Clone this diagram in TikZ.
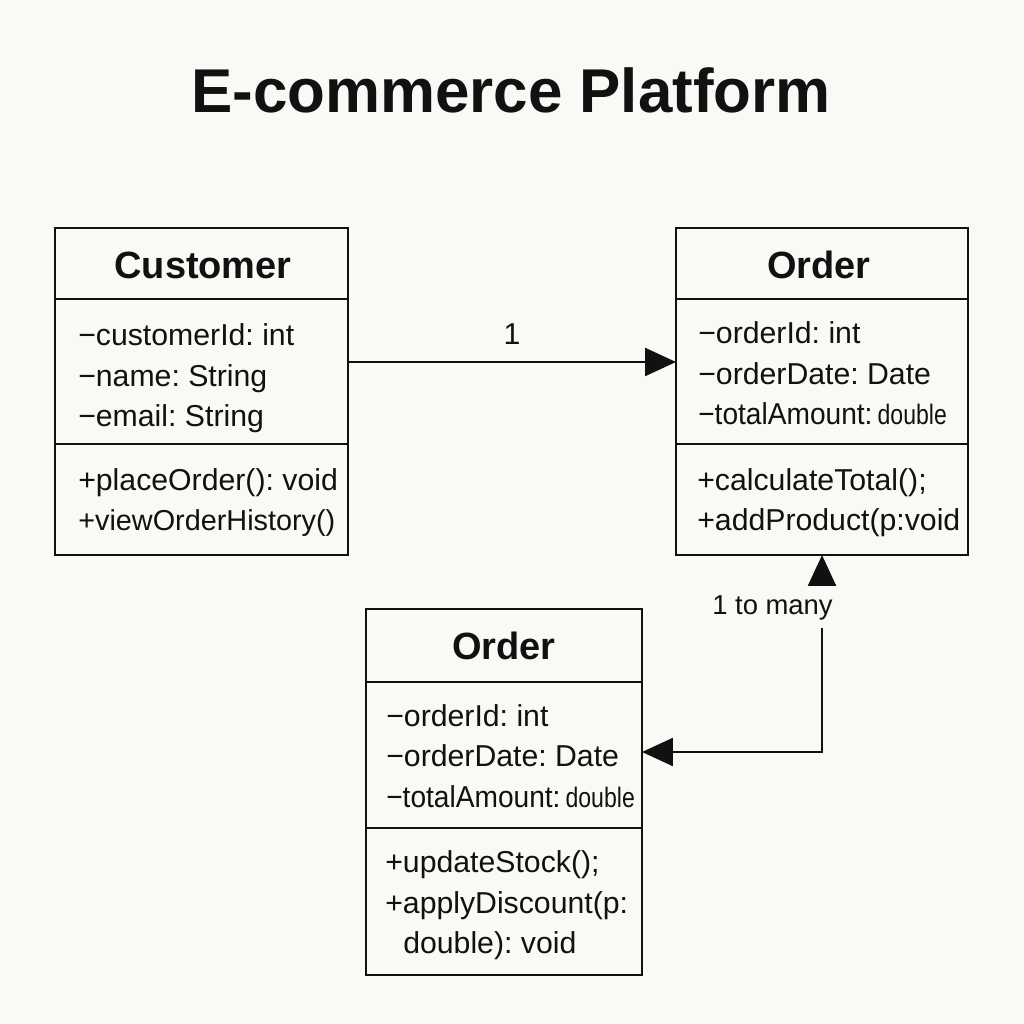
\documentclass[tikz,border=0pt]{standalone}
\usepackage{fontspec}
\usepackage{graphicx}
\setmainfont{Liberation Sans}
\usetikzlibrary{arrows.meta}
\definecolor{bg}{RGB}{250,249,246}
\definecolor{ink}{RGB}{17,17,17}
\newcommand{\dbl}{\scalebox{0.82}[1]{\fontsize{20}{22}\selectfont double}}
\newcommand{\tamt}{\scalebox{0.93}[1]{−totalAmount:}\,}
\begin{document}
\frenchspacing
\begin{tikzpicture}[x=0.025cm,y=-0.025cm,
  cls/.style={draw=ink, line width=1.4pt, inner sep=0pt, outer sep=0pt, rectangle},
  sepline/.style={draw=ink, line width=1.4pt},
  ttl/.style={font=\bfseries\fontsize{27}{32}\selectfont, anchor=base, inner sep=0pt, text=ink},
  txt/.style={font=\fontsize{21.5}{25}\selectfont, anchor=base west, inner sep=0pt, text=ink},
  conn/.style={draw=ink, line width=1.4pt, -{Triangle[length=22pt,width=20pt]}},
]
\fill[bg] (0,0) rectangle (1024,1024);
\useasboundingbox (0,0) rectangle (1024,1024);

\node[font=\bfseries\fontsize{44}{50}\selectfont, anchor=base, inner sep=0pt, text=ink] (title) at (511,113) {E-commerce Platform};

% Customer
\node[cls, minimum width=7.325cm, minimum height=8.175cm] (cust) at (201.5,391.5) {};
\draw[sepline] (cust.west |- 0,299) -- (cust.east |- 0,299);
\draw[sepline] (cust.west |- 0,444) -- (cust.east |- 0,444);
\node[ttl] (custname) at (203,278) {Customer};
\node[txt] (ca1) at (78,345) {−customerId: int};
\node[txt] (ca2) at (78,386) {−name: String};
\node[txt] (ca3) at (78,426) {−email: String};
\node[txt] (cm1) at (78,490) {+placeOrder(): void};
\node[txt, font=\fontsize{20.5}{25}\selectfont] (cm2) at (78,530) {+viewOrderHistory()};

% Order (top right)
\node[cls, minimum width=7.3cm, minimum height=8.175cm] (ord1) at (822,391.5) {};
\draw[sepline] (ord1.west |- 0,299) -- (ord1.east |- 0,299);
\draw[sepline] (ord1.west |- 0,444) -- (ord1.east |- 0,444);
\node[ttl] (o1name) at (819,278) {Order};
\node[txt] (oa1) at (698,343) {−orderId: int};
\node[txt] (oa2) at (698,384) {−orderDate: Date};
\node[txt] (oa3) at (698,424) {\tamt\dbl};
\node[txt] (om1) at (697,490) {+calculateTotal();};
\node[txt] (om2) at (697,530) {+addProduct(p:void};

% Order (bottom)
\node[cls, minimum width=6.9cm, minimum height=9.15cm] (ord2) at (504,792) {};
\draw[sepline] (ord2.west |- 0,682) -- (ord2.east |- 0,682);
\draw[sepline] (ord2.west |- 0,828) -- (ord2.east |- 0,828);
\node[ttl] (o2name) at (504,659) {Order};
\node[txt] (pa1) at (386,726) {−orderId: int};
\node[txt] (pa2) at (386,766) {−orderDate: Date};
\node[txt] (pa3) at (386,807) {\tamt\dbl};
\node[txt] (pm1) at (385,872) {+updateStock();};
\node[txt] (pm2) at (385,913) {+applyDiscount(p:};
\node[txt] (pm3) at (403,953) {double): void};

% Connectors
\draw[conn] (cust.east |- 0,362) -- (ord1.west |- 0,362);
\node[txt, anchor=base] (lblone) at (512,344) {1};

\coordinate (c0) at (822,584);
\draw[conn] (c0) -- (ord1.south -| c0);
\node[txt, font=\fontsize{19.5}{23}\selectfont] (lblmany) at (712,614) {1 to many};
\coordinate (c1) at (822,628);
\draw[conn] (c1) |- (ord2.east |- 0,752);
\end{tikzpicture}
\end{document}
